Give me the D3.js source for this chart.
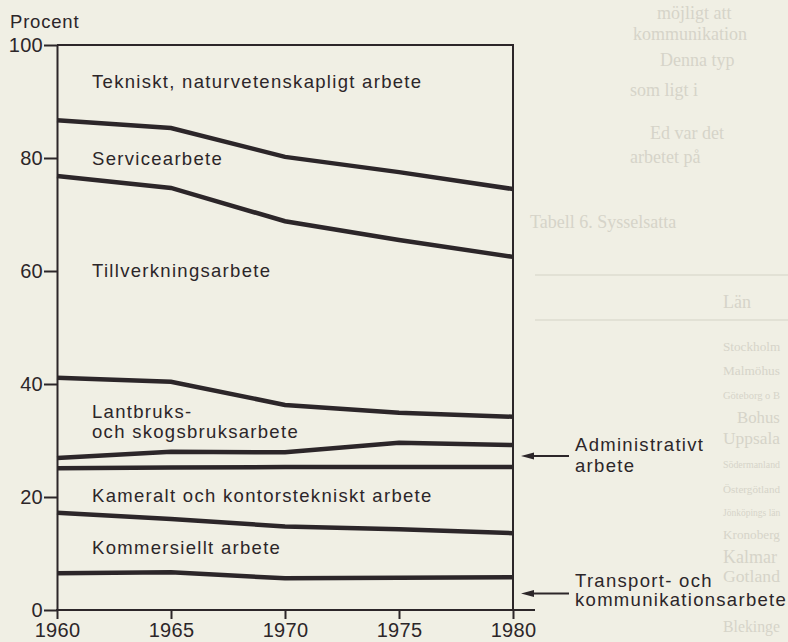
<!DOCTYPE html>
<html>
<head>
<meta charset="utf-8">
<script src="https://cdn.jsdelivr.net/npm/d3@7"></script>
<style>
body { margin: 0; background: #f0efe4; }
svg { display: block; }
text { font-family: "Liberation Sans", Arial, sans-serif; fill: #2c2629; }
.lbl { font-size: 18.5px; letter-spacing: 1.3px; }
.tick text { font-size: 20px; letter-spacing: 0.3px; }
.bleed { font-family: "Liberation Serif", serif; font-size: 18px; fill: #d6d4c9; }
</style>
</head>
<body>
<svg id="myGraph"></svg>
<script>
var width = 788;
var height = 642;

// andel sysselsatta per yrkesområde (procent), nerifrån och upp
var years = [1960, 1965, 1970, 1975, 1980];
var transport      = [6.5, 6.7, 5.6, 5.7, 5.8];
var kommersiellt   = [10.7, 9.4, 9.2, 8.6, 7.8];
var kameralt       = [7.9, 9.1, 10.5, 11.0, 11.7];
var administrativt = [1.8, 2.8, 2.6, 4.3, 3.9];
var lantbruk       = [14.2, 12.4, 8.4, 5.3, 5.0];
var tillverkning   = [35.7, 34.3, 32.5, 30.6, 28.3];
var service        = [9.9, 10.6, 11.4, 12.0, 12.0];
var tekniskt       = [13.3, 14.7, 19.8, 22.5, 25.5];
var yTicks = [0, 20, 40, 60, 80, 100];
var xTicks = [1960, 1965, 1970, 1975, 1980];

var keys = ["transport", "kommersiellt", "kameralt", "administrativt",
            "lantbruk", "tillverkning", "service", "tekniskt"];
var cols = [transport, kommersiellt, kameralt, administrativt,
            lantbruk, tillverkning, service, tekniskt];

var rows = years.map(function (yr, i) {
    var r = { year: yr };
    keys.forEach(function (k, j) { r[k] = cols[j][i]; });
    return r;
});

var ink = "#2c2629";

var svg = d3.select("#myGraph")
                .attr("width", width)
                .attr("height", height);

// svag genomlysning av tabellen på nästa sida
var bleed = svg.append("g");
[275, 320].forEach(function (yy) {
    bleed.append("line").attr("x1", 535).attr("x2", 788)
        .attr("y1", yy).attr("y2", yy)
        .attr("stroke", "#dedcd1").attr("stroke-width", 1.5);
});
[["möjligt att", 657, 19], ["kommunikation", 633, 40],
 ["Denna typ", 660, 66], ["som ligt i", 630, 96],
 ["Ed var det", 650, 139], ["arbetet på", 630, 163],
 ["Tabell 6. Sysselsatta", 530, 228], ["Län", 723, 308],
 ["Stockholm", 723, 351], ["Malmöhus", 723, 375], ["Göteborg o B", 723, 399],
 ["Bohus", 737, 423], ["Uppsala", 723, 444], ["Södermanland", 723, 468],
 ["Östergötland", 723, 493], ["Jönköpings län", 723, 516], ["Kronoberg", 723, 539],
 ["Kalmar", 723, 563], ["Gotland", 723, 582], ["Blekinge", 723, 632]]
    .forEach(function (t) {
        var el = bleed.append("text").attr("class", "bleed")
            .attr("x", t[1]).attr("y", t[2]).text(t[0]);
        var w = el.node().getComputedTextLength();
        if (t[1] + w > 780) {
            el.style("font-size", (18 * (780 - t[1]) / w).toFixed(1) + "px");
        }
    });

var x = d3.scaleLinear().domain([1960, 1980]).range([57, 513]);
var y = d3.scaleLinear().domain([0, 100]).range([610, 45]);

var series = d3.stack().keys(keys)(rows);

var line = d3.line()
    .x(function (d) { return x(d.data.year); })
    .y(function (d) { return y(d[1]); });

// gränslinjer mellan områdena (översta = ramen vid 100)
svg.selectAll("path.band")
    .data(series.slice(0, series.length - 1))
    .enter().append("path")
    .attr("class", "band")
    .attr("d", line)
    .attr("fill", "none")
    .attr("stroke", ink)
    .attr("stroke-width", 4.5);

// ram
svg.append("path")
    .attr("d", "M" + x(1960) + "," + y(100) + "H" + x(1980) + "V" + y(0))
    .attr("fill", "none")
    .attr("stroke", ink)
    .attr("stroke-width", 2);

// y-axel
var yAxis = svg.append("g")
    .attr("transform", "translate(" + x(1960) + ",0)")
    .call(d3.axisLeft(y).tickValues(yTicks).tickSize(13).tickSizeOuter(0).tickPadding(1));

// x-axel
var xAxis = svg.append("g")
    .attr("transform", "translate(0," + y(0) + ")")
    .call(d3.axisBottom(x).tickValues(xTicks).tickFormat(d3.format("d"))
          .tickSize(9).tickSizeOuter(0).tickPadding(4));
xAxis.select(".domain").attr("d", "M" + (x(1960) - 1) + ",0H" + (x(1980) + 22));

[yAxis, xAxis].forEach(function (a) {
    a.select(".domain").attr("stroke", ink).attr("stroke-width", 2);
    a.selectAll(".tick line").attr("stroke", ink).attr("stroke-width", 2);
    a.selectAll(".tick text").attr("fill", ink).style("font-family", null);
});
xAxis.selectAll(".tick text").attr("dy", "0.72em");

svg.append("text")
    .attr("class", "lbl")
    .attr("x", 10).attr("y", 28)
    .style("letter-spacing", "0.8px")
    .text("Procent");

// områdesnamn
var labels = [
    ["Tekniskt, naturvetenskapligt arbete", 92, 88],
    ["Servicearbete", 92, 165],
    ["Tillverkningsarbete", 92, 277],
    ["Lantbruks-", 92, 418],
    ["och skogsbruksarbete", 92, 438],
    ["Kameralt och kontorstekniskt arbete", 92, 502],
    ["Kommersiellt arbete", 92, 554],
    ["Administrativt", 575, 451],
    ["arbete", 575, 472],
    ["Transport- och", 575, 587],
    ["kommunikationsarbete", 575, 606]
];
svg.selectAll("text.area")
    .data(labels)
    .enter().append("text")
    .attr("class", "lbl area")
    .attr("x", function (d) { return d[1]; })
    .attr("y", function (d) { return d[2]; })
    .text(function (d) { return d[0]; });

// pilar mot de smala områdena (administrativt, transport)
[3, 0].forEach(function (idx) {
    var s = series[idx];
    var last = s[s.length - 1];
    var yy = y((last[0] + last[1]) / 2);
    var tip = x(1980) + 8;
    svg.append("line")
        .attr("x1", tip + 8).attr("x2", tip + 48)
        .attr("y1", yy).attr("y2", yy)
        .attr("stroke", ink).attr("stroke-width", 2);
    svg.append("path")
        .attr("d", "M" + tip + "," + yy + "l13,-3.5v7z")
        .attr("fill", ink);
});
</script>
</body>
</html>
